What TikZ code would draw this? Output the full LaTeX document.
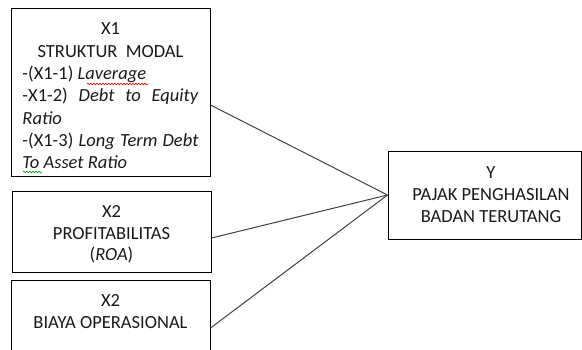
\documentclass[tikz,border=0pt]{standalone}
\usepackage{fontspec}
\setmainfont{Carlito}
\usetikzlibrary{decorations.pathmorphing}
\begin{document}
\begin{tikzpicture}[x=1pt,y=-1pt,
  box/.style={draw=black, line width=1pt, rectangle, inner sep=0pt, align=center,
    font=\fontsize{18.5}{22}\selectfont, text=black!90},
  link/.style={draw=black!75, line width=1pt},
  squig/.style={decorate, decoration={snake, amplitude=0.8pt, segment length=3pt}, line width=0.6pt}]
\useasboundingbox (0,0) rectangle (582,349);
\node[box, minimum width=199pt, minimum height=168pt] (X1) at (110.5,92) {%
  \parbox{176pt}{\fontsize{18.5}{22.3}\selectfont
  \vspace*{8pt}
  {\centering X1\\ STRUKTUR\ \ MODAL\par}
  \noindent -(X1-1) \textit{Laverage}\\
  -X1-2)\hfill\textit{Debt}\hfill\textit{to}\hfill\textit{Equity}\\
  \textit{Ratio}\\
  -(X1-3)\hfill\textit{Long}\hfill\textit{Term}\hfill\textit{Debt}\\
  \textit{To Asset Ratio}}};
\node[box, minimum width=199pt, minimum height=81pt] (X2) at (111.5,231.5) {%
  \parbox{190pt}{\centering\fontsize{18.5}{21.5}\selectfont\vspace*{6pt}X2\\PROFITABILITAS\\(\textit{ROA})}};
\node[box, minimum width=199pt, minimum height=84pt] (X3) at (110.5,322) {X2\\BIAYA OPERASIONAL\\\mbox{}};
\node[box, minimum width=193pt, minimum height=88pt] (Y) at (484.5,195) {%
  \hspace*{13pt}\parbox{175pt}{\centering\fontsize{18.5}{22}\selectfont Y\\PAJAK PENGHASILAN\\BADAN TERUTANG}};
\draw[link] ([yshift=-13pt]X1.east) -- (Y.west);
\draw[link] ([yshift=-6.5pt]X2.east) -- (Y.west);
\draw[link] ([yshift=-6pt]X3.east) -- (Y.west);
\coordinate (w1a) at (87,84);
\coordinate (w1b) at (148,84);
\draw[squig, red] (w1a) -- (w1b);
\coordinate (w2a) at (23,172);
\coordinate (w2b) at (42,172);
\draw[squig, green!60!black] (w2a) -- (w2b);
\end{tikzpicture}
\end{document}
